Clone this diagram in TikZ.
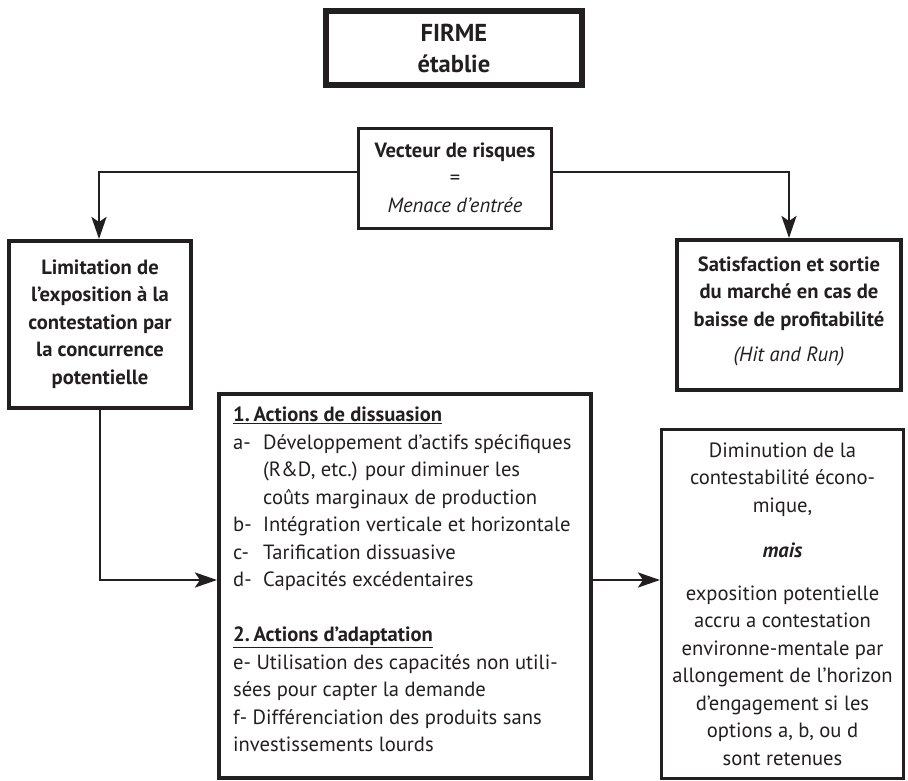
\documentclass[tikz,border=0pt]{standalone}
\usepackage{fontspec}
\setmainfont{PT Sans}
\usetikzlibrary{arrows.meta}
\definecolor{ink}{HTML}{231F20}
\begin{document}
\begin{tikzpicture}[x=1pt,y=-1pt,
  box/.style={draw=ink, rectangle, inner sep=0pt, line width=4pt},
  txt/.style={text=ink, inner sep=0pt, align=center, font=\fontsize{20.6}{27.5}\selectfont},
  arr/.style={draw=ink, line width=2.8pt, -{Stealth[length=22pt,width=15pt,inset=5pt]}}]
\useasboundingbox (0,0) rectangle (908,781);

% boxes
\node[box, line width=6pt, minimum width=256pt, minimum height=74pt] (firme) at (454,48) {};
\node[box, line width=3pt, minimum width=193pt, minimum height=100pt] (vec) at (455,178.5) {};
\node[box, minimum width=182pt, minimum height=167pt] (lim) at (100,324.5) {};
\node[box, minimum width=224pt, minimum height=150pt] (sat) at (789,315) {};
\node[box, minimum width=372pt, minimum height=384pt] (act) at (405,586) {};
\node[box, line width=3pt, minimum width=242pt, minimum height=349pt] (dim) at (782.5,604) {};

% texts
\node[txt, font=\bfseries\fontsize{24.5}{31}\selectfont] (firmeT) at (firme) {FIRME\\établie};
\node[txt] (vecT) at (455,177.5) {\textbf{Vecteur de risques}\\=\\\textit{Menace d’entrée}};
\node[txt] (limT) at (100,324) {\textbf{Limitation de}\\\textbf{l’exposition à la}\\\textbf{contestation par}\\\textbf{la concurrence}\\\textbf{potentielle}};
\node[txt] (satT) at (789,311) {\textbf{Satisfaction et sortie}\\\textbf{du marché en cas de}\\\textbf{baisse de profitabilité}\\[7.5pt]\textit{(Hit and Run)}};
\node[txt, align=left, anchor=west] (actT) at (233,579.5) {%
\underline{\textbf{1.\hspace{0.18em}Actions de dissuasion}}\\
\makebox[30pt][l]{a-}Développement d’actifs spécifiques\\
\hspace*{30pt}(R\&D, etc.) pour diminuer les\\
\hspace*{30pt}coûts marginaux de production\\
\makebox[30pt][l]{b-}Intégration verticale et horizontale\\
\makebox[30pt][l]{c-}Tarification dissuasive\\
\makebox[30pt][l]{d-}Capacités excédentaires\\[27.5pt]
\underline{\textbf{2.\hspace{0.18em}Actions d’adaptation}}\\
e- Utilisation des capacités non utili-\\
sées pour capter la demande\\
f- Différenciation des produits sans\\
investissements lourds};
\node[txt] (dimT) at (782.5,604) {Diminution de la\\contestabilité écono-\\mique,\\[17.5pt]\textbf{\textit{mais}}\\[15.5pt]exposition potentielle\\accru a contestation\\environne-mentale par\\allongement de l’horizon\\d’engagement si les\\options a, b, ou d\\sont retenues};

% connectors
\coordinate (lturn) at (99,172);
\coordinate (rturn) at (789,172);
\coordinate (lbend) at (100,580);
\draw[arr] (vec.west |- lturn) -- (lturn) -- (lim.north -| lturn);
\draw[arr] (vec.east |- rturn) -- (rturn) -- (sat.north);
\draw[arr] (lim.south) -- (lbend) -- (act.west |- lbend);
\draw[arr] (act.east |- lbend) -- (dim.west |- lbend);
\end{tikzpicture}
\end{document}
